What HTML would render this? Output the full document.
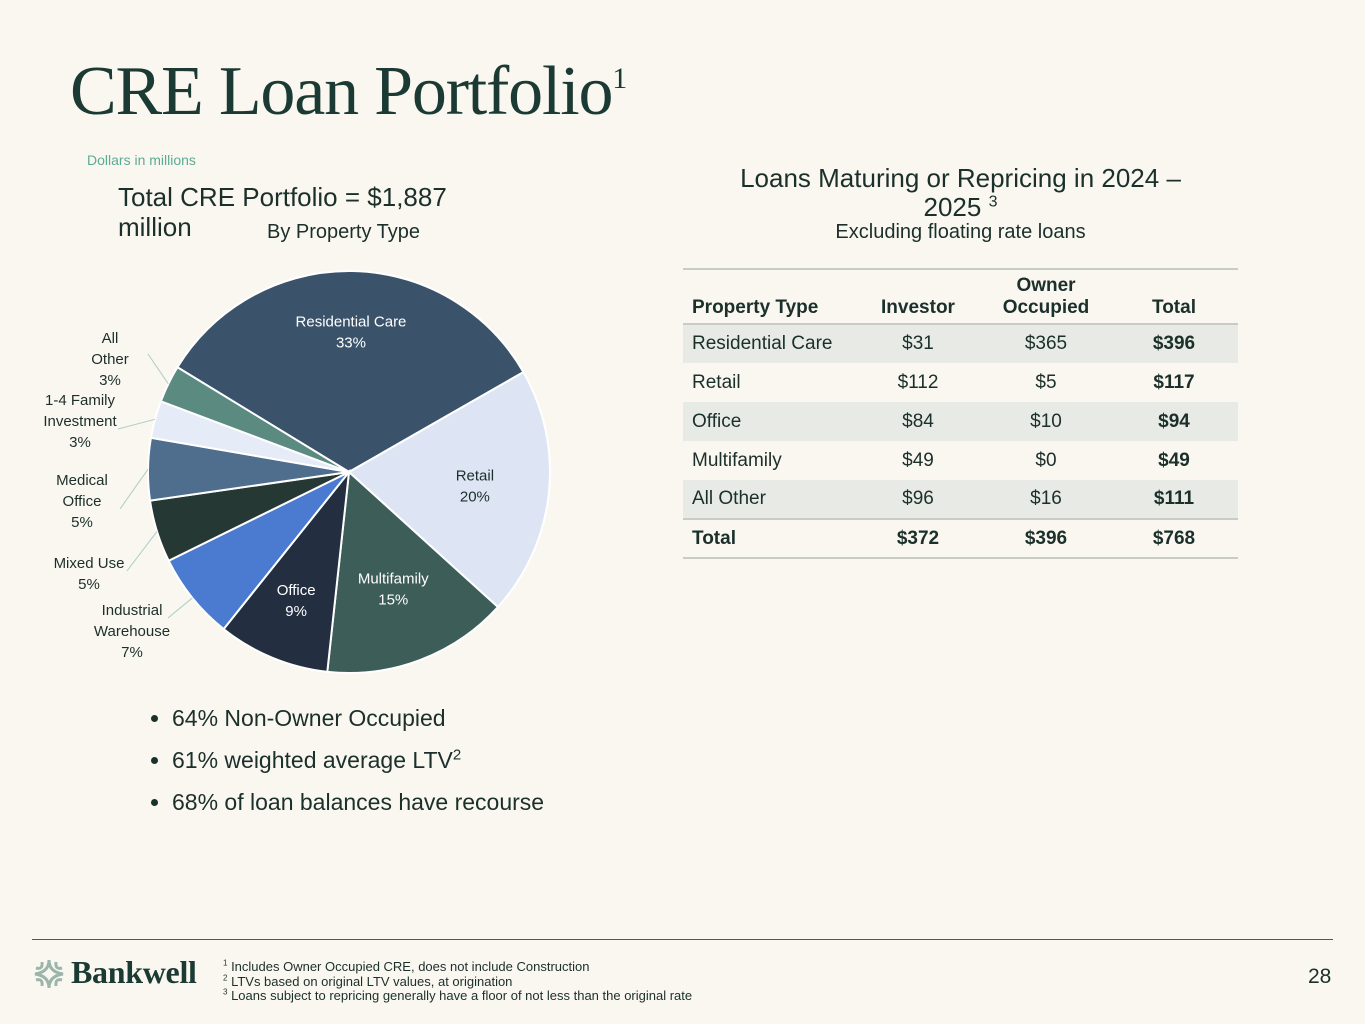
<!DOCTYPE html>
<html><head><meta charset="utf-8">
<style>
body{margin:0;background:#faf7f0;font-family:"Liberation Sans",sans-serif;color:#1f2f2b;}
#page{position:relative;width:1365px;height:1024px;overflow:hidden;background:#faf7f0;}
.abs{position:absolute;white-space:nowrap;}
table{border-collapse:collapse;}
sup{line-height:0;}
</style></head><body>
<div id="page">
<div class="abs" style="left:70px;top:52px;font-family:'Liberation Serif',serif;font-size:70px;color:#1b3a33;letter-spacing:-1.2px;">CRE Loan Portfolio<sup style="font-size:30px;vertical-align:26px;letter-spacing:0;">1</sup></div>
<div class="abs" style="left:87px;top:152px;font-size:14px;color:#5aab95;">Dollars in millions</div>
<div class="abs" style="left:118px;top:182px;font-size:26px;line-height:30px;color:#1b2f2b;">Total CRE Portfolio = $1,887<br>million</div>
<div class="abs" style="left:267px;top:221px;font-size:20px;color:#1b2f2b;">By Property Type</div>

<svg id="pie" class="abs" style="left:0;top:250px;" width="660" height="440"></svg>

<ul class="abs" style="left:150px;top:697px;margin:0;padding:0 0 0 22px;font-size:23px;line-height:42px;color:#1b2f2b;">
<li>64% Non-Owner Occupied</li>
<li>61% weighted average LTV<sup style="font-size:15px;">2</sup></li>
<li>68% of loan balances have recourse</li>
</ul>

<div class="abs" style="left:683px;width:555px;top:164px;text-align:center;font-size:26px;line-height:29px;color:#1b2f2b;white-space:normal;">Loans Maturing or Repricing in 2024 –<br>2025 <sup style="font-size:16px;">3</sup></div>
<div class="abs" style="left:683px;width:555px;top:221px;text-align:center;font-size:20px;color:#1b2f2b;">Excluding floating rate loans</div>

<table class="abs" style="left:683px;top:268px;width:555px;font-size:19px;color:#1b2f2b;">
<tr style="height:55px;border-top:2px solid #c9ccc6;border-bottom:2px solid #c9ccc6;font-weight:bold;">
<td style="padding-left:9px;vertical-align:bottom;padding-bottom:4px;">Property Type</td><td style="text-align:center;vertical-align:bottom;padding-bottom:4px;width:126px;">Investor</td><td style="text-align:center;vertical-align:bottom;padding-bottom:4px;width:126px;line-height:22px;">Owner<br>Occupied</td><td style="text-align:center;vertical-align:bottom;padding-bottom:4px;width:126px;">Total</td></tr>
<tr style="height:39px;background:#e8ebe5;"><td style="padding-left:9px;">Residential Care</td><td align="center">$31</td><td align="center">$365</td><td align="center"><b>$396</b></td></tr>
<tr style="height:39px;"><td style="padding-left:9px;">Retail</td><td align="center">$112</td><td align="center">$5</td><td align="center"><b>$117</b></td></tr>
<tr style="height:39px;background:#e8ebe5;"><td style="padding-left:9px;">Office</td><td align="center">$84</td><td align="center">$10</td><td align="center"><b>$94</b></td></tr>
<tr style="height:39px;"><td style="padding-left:9px;">Multifamily</td><td align="center">$49</td><td align="center">$0</td><td align="center"><b>$49</b></td></tr>
<tr style="height:39px;background:#e8ebe5;"><td style="padding-left:9px;">All Other</td><td align="center">$96</td><td align="center">$16</td><td align="center"><b>$111</b></td></tr>
<tr style="height:39px;border-top:2px solid #c9ccc6;border-bottom:2px solid #c9ccc6;font-weight:bold;"><td style="padding-left:9px;">Total</td><td align="center">$372</td><td align="center">$396</td><td align="center">$768</td></tr>
</table>

<div class="abs" style="left:32px;top:939px;width:1301px;height:1px;background:#555;"></div>
<svg class="abs" style="left:33px;top:958px;" width="32" height="32">
<g fill="none" stroke="#9bb5ab" stroke-width="3"><path d="M16 2 Q16 14 2 16 Q16 18 16 30 Q16 18 30 16 Q16 14 16 2Z"/><path d="M9 4 Q10 12 3 10"/><path d="M23 4 Q22 12 29 10"/><path d="M9 28 Q10 20 3 22"/><path d="M23 28 Q22 20 29 22"/></g></svg>
<div class="abs" style="left:71px;top:954px;font-family:'Liberation Serif',serif;font-weight:bold;font-size:32px;color:#1b3a33;letter-spacing:-0.3px;">Bankwell</div>
<div class="abs" style="left:223px;top:960px;font-size:13px;line-height:14.5px;color:#1b2f2b;">
<div><sup style="font-size:8px;">1</sup> Includes Owner Occupied CRE, does not include Construction</div>
<div><sup style="font-size:8px;">2</sup> LTVs based on original LTV values, at origination</div>
<div><sup style="font-size:8px;">3</sup> Loans subject to repricing generally have a floor of not less than the original rate</div></div>
<div class="abs" style="left:1308px;top:965px;font-size:21px;color:#1b2f2b;">28</div>
</div>
<script>
const categories=["Residential Care","Retail","Multifamily","Office","Industrial Warehouse","Mixed Use","Medical Office","1-4 Family Investment","All Other"];
const shares=[33,20,15,9,7,5,5,3,3];
const sliceColors=["#3a536b","#dde5f5","#3d5d59","#232f41","#4a7bd0","#263833","#4f6e8e","#e6ecf7","#5a8a80"];
const NS="http://www.w3.org/2000/svg";
const svg=document.getElementById('pie');
const cx=349,cy=222,r=201;
const total=shares.reduce((a,b)=>a+b,0);
const startDeg=-58.6;
function pt(deg,rad){const a=deg*Math.PI/180;return [cx+rad*Math.sin(a),cy-rad*Math.cos(a)];}
const inside={0:0.70,1:0.63,2:0.62,3:0.69};
const outside={4:[132,365],5:[89,318],6:[82,235],7:[80,155],8:[110,93]};
const outLines={4:["Industrial","Warehouse"],5:["Mixed Use"],6:["Medical","Office"],7:["1-4 Family","Investment"],8:["All","Other"]};
let acc=startDeg;
shares.forEach((v,i)=>{
  const a0=acc,a1=acc+v/total*360;acc=a1;
  const p0=pt(a0,r),p1=pt(a1,r);
  const path=document.createElementNS(NS,'path');
  path.setAttribute('d',`M${cx},${cy}L${p0[0]},${p0[1]}A${r},${r} 0 ${a1-a0>180?1:0} 1 ${p1[0]},${p1[1]}Z`);
  path.setAttribute('fill',sliceColors[i]);
  path.setAttribute('stroke','#ffffff');
  path.setAttribute('stroke-width','2');
  
  
  svg.appendChild(path);
  const mid=(a0+a1)/2;
  if(inside[i]!==undefined){
    const c=pt(mid,r*inside[i]);
    const t=document.createElementNS(NS,'text');
    
    
    t.setAttribute('text-anchor','middle');t.setAttribute('font-size','15');
    t.setAttribute('fill',i===1?'#1b2f2b':'#ffffff');
    t.innerHTML=`<tspan x="${c[0]}" y="${c[1]-5}">${categories[i]}</tspan><tspan x="${c[0]}" y="${c[1]+16}">${v}%</tspan>`;
    svg.appendChild(t);
  } else {
    const o=outside[i];const lines=outLines[i].concat([v+'%']);
    const t=document.createElementNS(NS,'text');
    
    
    t.setAttribute('text-anchor','middle');t.setAttribute('font-size','15');t.setAttribute('fill','#1b2f2b');
    let s='';lines.forEach((l,k)=>{s+=`<tspan x="${o[0]}" y="${o[1]+k*21}">${l}</tspan>`;});
    t.innerHTML=s;svg.appendChild(t);
    const e=pt(mid,r);
    const ln=document.createElementNS(NS,'polyline');
    
    
    const ly=o[1]+(lines.length>2?21:0)+(i===4?-21:0);
    ln.setAttribute('points',`${o[0]+(i===4?36:38)},${ly+(i===8?-10:3)} ${e[0]},${e[1]}`);
    ln.setAttribute('fill','none');ln.setAttribute('stroke','#a9cfc3');ln.setAttribute('stroke-width','1');
    svg.appendChild(ln);
  }
});
</script>
</body></html>
